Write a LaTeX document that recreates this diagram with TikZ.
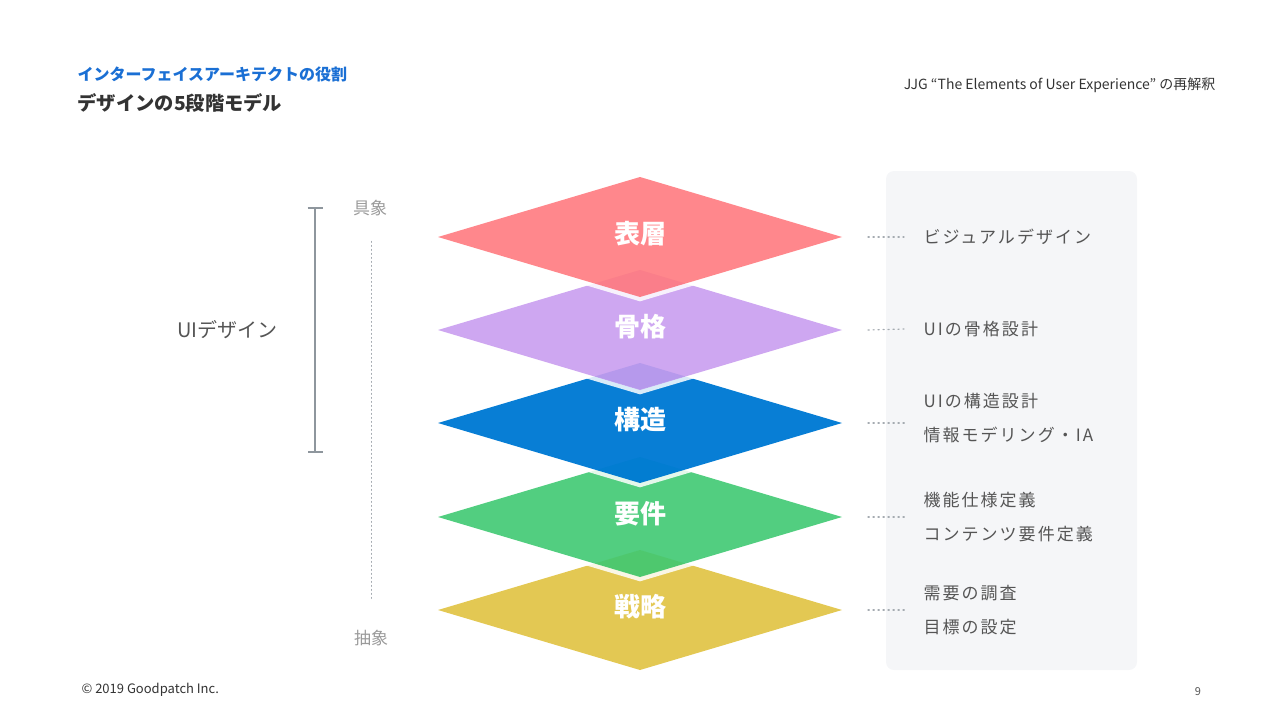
\documentclass[tikz,border=0pt]{standalone}
\usepackage{fontspec}
\setmainfont{Noto Sans CJK JP}
\usepackage{tikz}
\usetikzlibrary{positioning, arrows.meta, calc, shapes.geometric}

\definecolor{titleblue}{HTML}{1A6FD4}
\definecolor{darktext}{HTML}{333333}
\definecolor{greytext}{HTML}{555555}
\definecolor{lighttext}{HTML}{9A9A9A}
\definecolor{barcol}{HTML}{8E969D}
\definecolor{panelcol}{HTML}{F5F6F8}
\definecolor{surfcol}{HTML}{FF7A7F}
\definecolor{skelcol}{HTML}{C99DEF}
\definecolor{strucol}{HTML}{007AD4}
\definecolor{reqcol}{HTML}{3FC972}
\definecolor{stratcol}{HTML}{E0C240}

\begin{document}
\begin{tikzpicture}[x=1pt, y=-1pt]
		% Define styles
		\tikzset{
			layer/.style={diamond, fill=#1, fill opacity=0.9, text opacity=1, text=white, minimum width=404, minimum height=120, inner sep=0pt, outer sep=0pt, text height=22pt, text depth=10pt, font=\fontsize{26}{30}\selectfont\bfseries},
			band/.style={draw=white, draw opacity=0.85, line width=4.5pt, line join=miter},
			dotline/.style={draw=barcol!80, line width=1.2pt, dash pattern=on 1.2pt off 3.8pt, line cap=round},
			desc/.style={anchor=west, align=left, text=greytext, font=\fontsize{17}{34}\selectfont\addfontfeatures{LetterSpace=12}},
			pole/.style={text=lighttext, font=\fontsize{17}{20}\selectfont},
			panel/.style={fill=panelcol, rounded corners=8pt, minimum width=251, minimum height=499, inner sep=0pt}
		}
		\useasboundingbox (0,0) rectangle (1280,720);
		
		% Header and footer
		\node[anchor=west, text=titleblue, font=\fontsize{16}{19}\selectfont\bfseries] (role) at (74,74) {インターフェイスアーキテクトの役割};
		\node[anchor=west, text=darktext, font=\fontsize{19.3}{22}\selectfont\bfseries] (model) at (74,103) {デザインの5段階モデル};
		\node[anchor=east, text=darktext, font=\fontsize{14}{17}\selectfont] (source) at (1219,85) {JJG “The Elements of User Experience” の再解釈};
		\node[anchor=west, text=darktext, font=\fontsize{13}{15}\selectfont] (copy) at (78,690) {© 2019 Goodpatch Inc.};
		\node[text=greytext, font=\fontsize{11}{13}\selectfont] (page) at (1198,692) {9};
		
		% Panel
		\node[panel] (panel) at (1011.5,420.5) {};
		
		% Layers, from the bottom up
		\node[layer=stratcol] (strategy) at (640,610) {戦略};
		\draw[band] (438,519) -- (640,579) -- (842,519);
		\node[layer=reqcol] (scope) at (640,517) {要件};
		\draw[band] (438,425) -- (640,485) -- (842,425);
		\node[layer=strucol, fill opacity=0.97] (structure) at (640,423) {構造};
		\draw[band] (438,332) -- (640,392) -- (842,332);
		\node[layer=skelcol] (skeleton) at (640,330) {骨格};
		\draw[band] (438,239) -- (640,299) -- (842,239);
		\node[layer=surfcol] (surface) at (640,237) {表層};
		
		% Descriptions
		\node[desc] (dsurface) at (920,237) {ビジュアルデザイン};
		\node[desc] (dskeleton) at (920,329) {UIの骨格設計};
		\node[desc] (dstructure) at (920,418) {UIの構造設計\\情報モデリング・IA};
		\node[desc] (dscope) at (920,517) {機能仕様定義\\コンテンツ要件定義};
		\node[desc] (dstrategy) at (920,610) {需要の調査\\目標の設定};
		
		\draw[dotline] ($(surface.east)+(26,0)$) -- ($(dsurface.west)+(-16,0)$);
		\draw[dotline] ($(skeleton.east)+(26,0)$) -- ($(dskeleton.west)+(-16,0)$);
		\draw[dotline] ($(structure.east)+(26,0)$) -- ($(structure.east)+(64,0)$);
		\draw[dotline] ($(scope.east)+(26,0)$) -- ($(scope.east)+(64,0)$);
		\draw[dotline] ($(strategy.east)+(26,0)$) -- ($(strategy.east)+(64,0)$);
		
		% Concrete / abstract axis
		\node[pole] (concrete) at (370,208) {具象};
		\node[pole] (abstract) at (371,638) {抽象};
		\draw[dotline, dash pattern=on 1pt off 3pt, line width=1pt] ($(concrete.south)+(1,22)$) -- ($(abstract.north)+(0,-28)$);
		
		% UI design bracket
		\coordinate (uitop) at (315,207);
		\coordinate (uibot) at (315,453);
		\draw[barcol, line width=1.8pt, {Bar[width=15pt]}-{Bar[width=15pt]}] (uitop) -- (uibot);
		\node[text=greytext, font=\fontsize{20}{24}\selectfont, left=34pt of $(uitop)!.5!(uibot)$] (uidesign) {UIデザイン};
	\end{tikzpicture}
\end{document}
